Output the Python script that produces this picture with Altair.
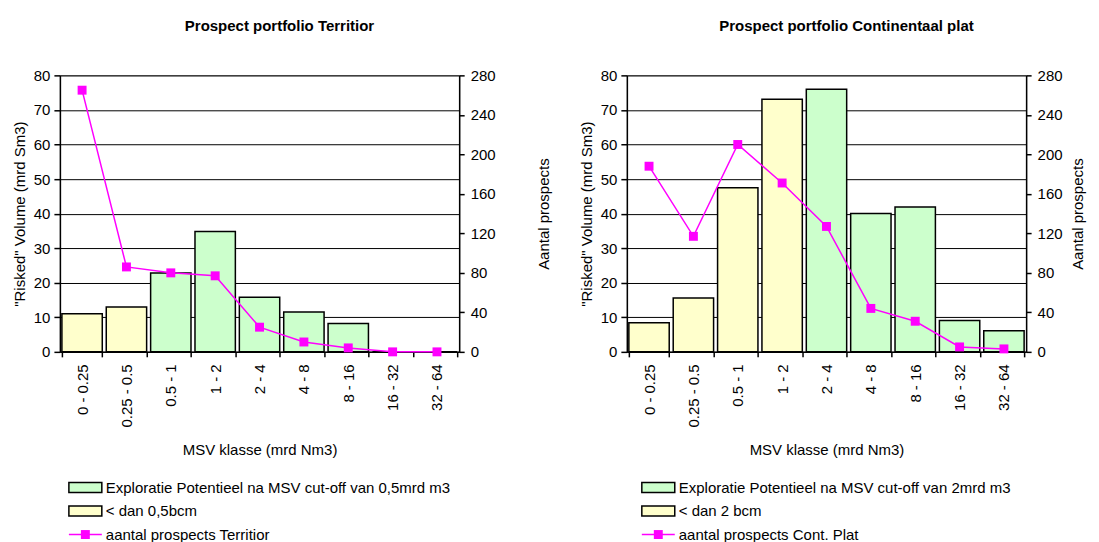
import altair as alt
import pandas as pd

FONT = "Liberation Sans"
MAGENTA = "#FF00FF"

classes = ["0 - 0.25", "0.25 - 0.5", "0.5 - 1", "1 - 2", "2 - 4",
           "4 - 8", "8 - 16", "16 - 32", "32 - 64"]

terr_volume = [11.0, 13.0, 22.8, 34.8, 15.8, 11.5, 8.2, 0, 0]
terr_group = ["small", "small", "expl", "expl", "expl", "expl", "expl", "expl", "expl"]
terr_count = [265, 86, 80, 77, 25, 10, 4, 0, 0]
terr_legend = ["Exploratie Potentieel na MSV cut-off van 0,5mrd m3",
               "< dan 0,5bcm", "aantal prospects Territior"]

cp_volume = [8.4, 15.6, 47.5, 73.1, 76.0, 40.0, 41.9, 9.1, 6.1]
cp_group = ["small", "small", "small", "small", "expl", "expl", "expl", "expl", "expl"]
cp_count = [188, 117, 210, 171, 127, 44, 31, 5, 3]
cp_legend = ["Exploratie Potentieel na MSV cut-off van 2mrd m3",
             "< dan 2 bcm", "aantal prospects Cont. Plat"]

group_scale = alt.Scale(domain=["expl", "small"], range=["#CCFFCC", "#FFFFCC"])


def panel(title, volume, group, count, legend, sym_x, rtitle_pad):
    df = pd.DataFrame({"klasse": classes, "volume": volume,
                       "group": group, "count": count})
    xenc = alt.X("klasse:N", sort=classes,
                 scale=alt.Scale(paddingInner=0.09, paddingOuter=0.045),
                 axis=alt.Axis(title="MSV klasse (mrd Nm3)", labelAngle=270,
                               tickBand="extent", labelPadding=7, tickSize=5,
                               titlePadding=15, grid=False))
    bars = alt.Chart(df).mark_bar(stroke="black", strokeWidth=1.5).encode(
        x=xenc,
        y=alt.Y("volume:Q", scale=alt.Scale(domain=[0, 80]),
                axis=alt.Axis(values=list(range(0, 81, 10)),
                              title='"Risked" Volume (mrd Sm3)',
                              grid=True, gridColor="black", tickSize=6,
                              labelPadding=4, titlePadding=6)),
        color=alt.Color("group:N", scale=group_scale, legend=None),
    )
    line = alt.Chart(df).mark_line(
        color=MAGENTA, strokeWidth=1.5,
        point=alt.OverlayMarkDef(shape="square", size=80, filled=True,
                                 color=MAGENTA, opacity=1)).encode(
        x=alt.X("klasse:N", sort=classes),
        y=alt.Y("count:Q", scale=alt.Scale(domain=[0, 280]),
                axis=alt.Axis(values=list(range(0, 281, 40)),
                              title="Aantal prospects", orient="right",
                              titleAngle=270, grid=False, tickSize=5,
                              labelPadding=6, titlePadding=rtitle_pad)),
    )
    leg = pd.DataFrame({"label": legend, "kind": ["expl", "small", "line"],
                        "row": [0, 1, 2]})
    base = alt.Chart(leg).transform_calculate(
        py="413 + datum.row * 23.5",
        py1="408 + datum.row * 23.5",
        py2="418 + datum.row * 23.5")
    leg_rect = base.transform_filter("datum.kind != 'line'").mark_rect(
        stroke="black", strokeWidth=1.5).encode(
        x=alt.value(sym_x), x2=alt.value(sym_x + 33),
        y=alt.Y("py1:Q", scale=None, axis=None), y2="py2:Q",
        color=alt.Color("kind:N", scale=group_scale, legend=None))
    leg_rule = base.transform_filter("datum.kind == 'line'").mark_rule(
        color=MAGENTA, strokeWidth=1.5).encode(
        x=alt.value(sym_x), x2=alt.value(sym_x + 33),
        y=alt.Y("py:Q", scale=None, axis=None))
    leg_sq = base.transform_filter("datum.kind == 'line'").mark_square(
        size=80, color=MAGENTA, opacity=1).encode(
        x=alt.value(sym_x + 16.5),
        y=alt.Y("py:Q", scale=None, axis=None))
    leg_text = base.mark_text(align="left", baseline="middle", fontSize=15,
                              font=FONT, color="black").encode(
        x=alt.value(sym_x + 37),
        y=alt.Y("py:Q", scale=None, axis=None),
        text="label:N")
    return alt.layer(bars, line, leg_rect, leg_rule, leg_sq, leg_text).resolve_scale(
        y="independent").properties(
        width=400, height=277,
        title=alt.TitleParams(text=title, fontSize=15, fontWeight="bold",
                              font=FONT, offset=34, anchor="middle", dx=20))


left = panel("Prospect portfolio Territior", terr_volume, terr_group,
             terr_count, terr_legend, 9, 56)
right = panel("Prospect portfolio Continentaal plat", cp_volume, cp_group,
              cp_count, cp_legend, 15, 23)

chart = alt.hconcat(left, right, spacing=26).properties(
    padding={"left": 3, "top": 10, "right": 5, "bottom": 0}, background="white"
).configure_axis(
    labelFont=FONT, titleFont=FONT, labelFontSize=15, titleFontSize=15,
    titleFontWeight="normal", labelColor="black", titleColor="black",
    domainColor="black", tickColor="black", domainWidth=1.5, tickWidth=1.5,
).configure_view(stroke="#808080")

chart.save("out.html", embed_options={"renderer": "svg", "actions": False})
